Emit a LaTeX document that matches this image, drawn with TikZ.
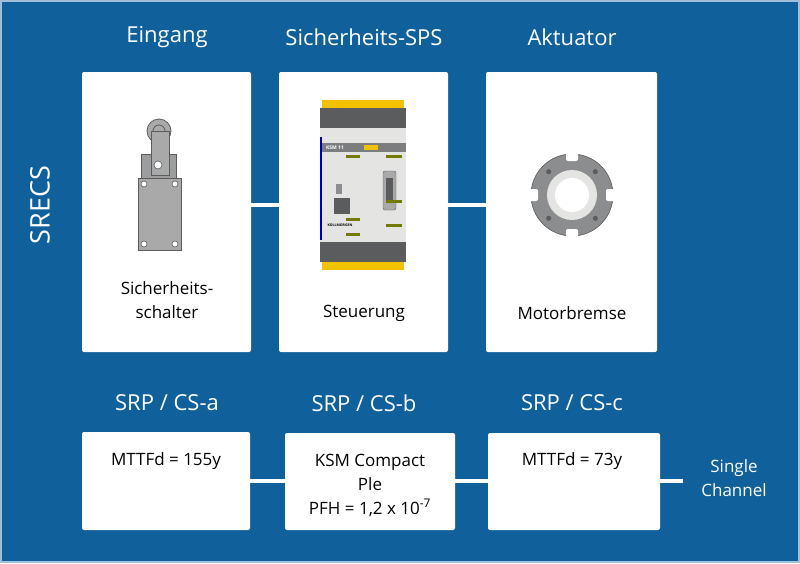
\documentclass[tikz,border=0pt]{standalone}
\usepackage{fontspec}
\setmainfont{Open Sans}
\definecolor{bg}{HTML}{10609B}
\definecolor{sw}{HTML}{A9A9A9}
\definecolor{dk}{HTML}{5A5C5E}
\definecolor{yl}{HTML}{F2C200}
\definecolor{lg}{HTML}{E4E5E3}
\begin{document}
\begin{tikzpicture}[x=1pt,y=-1pt,
 card/.style={fill=white,rounded corners=2pt,draw=none},
 title/.style={text=white,font=\fontsize{22}{24}\selectfont,anchor=center},
 lbl/.style={text=black,font=\fontsize{17}{24}\selectfont,align=center},
 link/.style={white,line width=4pt}]
\useasboundingbox (0,0) rectangle (800,563);
\fill[bg] (0,0) rectangle (800,563);
\draw[white!60!bg,line width=1.5pt] (1,1) rectangle (799,562);
% top cards
\node[title] (t1) at (167,37) {Eingang};
\node[title] (t2) at (364,37) {Sicherheits-SPS};
\node[title] (t3) at (572,37) {Aktuator};
\node[title,rotate=90,font=\fontsize{27}{30}\selectfont] (srecs) at (40,205) {SRECS};
\draw[link] (251,205) -- (279,205) (448,205) -- (486,205);
\path[card] (82,72) rectangle (251,352);
\path[card] (279,72) rectangle (448,352);
\path[card] (486,72) rectangle (657,352);
\coordinate (c1) at (82,72);
\node[lbl] (l1) at (167,300) {Sicherheits-\\schalter};
\node[lbl] (l2) at (364,313) {Steuerung};
\node[lbl] (l3) at (572,313) {Motorbremse};
% switch
\draw[dk,fill=sw,line width=0.8pt] (151,131) rectangle (169,165);
\draw[dk,fill=sw,line width=0.8pt] (159,131) circle (12);
\draw[dk,fill=sw,line width=0.8pt] (159,131) circle (6);
\draw[dk,fill=dk!60,line width=0.8pt] (141,154) rectangle (176,178);
\draw[dk,fill=sw,line width=0.8pt] (151,131) rectangle (169,175);
\draw[dk,fill=white,line width=0.6pt] (158,165) circle (4);
\draw[dk,fill=sw,line width=0.8pt] (138,178) rectangle (181,250);
\foreach \p in {(144,184),(175,184),(144,244),(175,244)}{\draw[dk,fill=white,line width=0.6pt] \p circle (3);}
% PLC
\fill[yl] (322,100) rectangle (404,108);
\fill[yl] (322,262) rectangle (404,270);
\fill[dk] (320,108) rectangle (406,128);
\fill[dk] (320,242) rectangle (406,262);
\fill[lg] (320,128) rectangle (406,242);
\fill[dk!80] (320,143) rectangle (406,152);
\node[text=white,font=\bfseries\fontsize{5}{5}\selectfont] (ksm) at (335,147.5) {KSM 11};
\fill[yl] (364,145) rectangle (378,150);
\fill[blue!70!black] (320,137) rectangle (322,240);
\fill[dk] (334,198) rectangle (350,214);
\fill[dk!70] (336,184) rectangle (342,194);
\draw[dk,fill=sw,rounded corners=2pt] (383,171) rectangle (396,210);
\fill[dk] (386,178) rectangle (393,203);
\foreach \yy in {155,218,233}{\fill[yl!80!green!60!black] (346,\yy) rectangle (360,\yy+3);}
\foreach \yy in {155,200,224}{\fill[yl!80!green!60!black] (386,\yy) rectangle (402,\yy+3);}
\node[font=\bfseries\fontsize{3.5}{4}\selectfont] (bk) at (340,225) {KOLLMORGEN};
% brake
\begin{scope}[shift={(572,195)}]
\draw[dk,fill=dk!70,line width=0.6pt] (0,0) circle (41);
\foreach \a in {0,90,180,270}{\fill[white,rotate=\a,rounded corners=2pt] (-6,-44) rectangle (6,-34);}
\foreach \a in {45,135,225,315}{\fill[dk,rotate=\a] (0,-33) circle (2.5);}
\fill[lg] (0,0) circle (25);
\fill[white] (0,0) circle (17);
\end{scope}
% bottom
\node[title] (s1) at (167,403) {SRP / CS-a};
\node[title] (s2) at (364,403) {SRP / CS-b};
\node[title] (s3) at (572,403) {SRP / CS-c};
\draw[link] (250,481) -- (285,481) (455,481) -- (488,481) (660,481) -- (683,481);
\path[card] (82,432) rectangle (250,530);
\path[card] (285,433) rectangle (455,530);
\path[card] (488,433) rectangle (660,530);
\node[lbl] (b1) at (166,461) {MTTFd = 155y};
\node[lbl,align=center] (b2) at (370,485) {KSM Compact\\Ple\\PFH = 1,2 x 10\textsuperscript{-7}};
\node[lbl] (b3) at (572,461) {MTTFd = 73y};
\node[lbl,text=white] (sc) at (734,478) {Single\\Channel};
\end{tikzpicture}
\end{document}
